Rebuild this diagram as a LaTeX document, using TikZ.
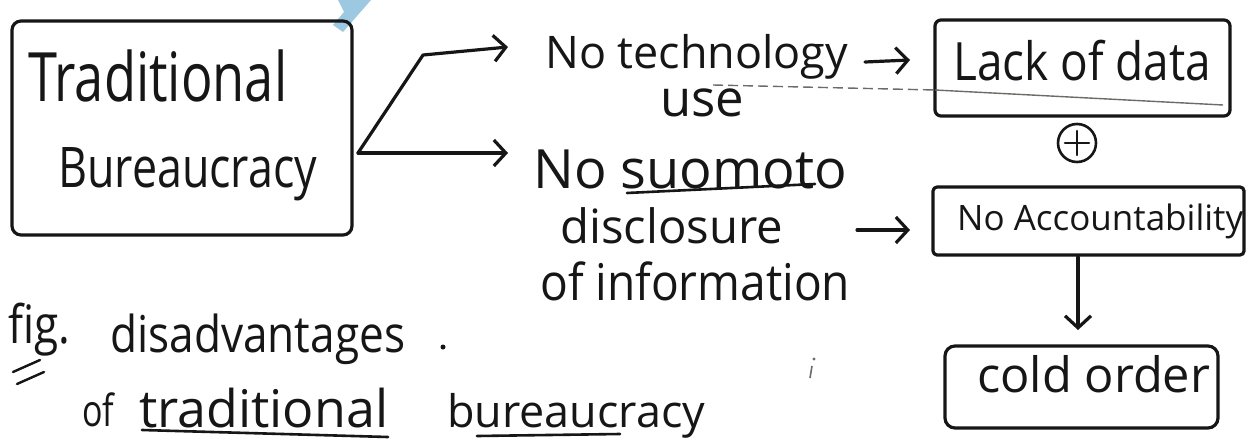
\documentclass[tikz,border=0pt]{standalone}
\usepackage{fontspec}
\setmainfont{Open Sans}
\usepackage{graphicx}
\usetikzlibrary{arrows.meta}
\definecolor{inkc}{HTML}{161616}
\definecolor{pencil}{HTML}{6E6A66}
\definecolor{wmark}{HTML}{9CC8E2}
% handwritten line: [vertical stretch]{width in pt}{text}
\newcommand{\hw}[3][1]{\scalebox{1}[#1]{\resizebox{#2pt}{!}{#3}}}

\begin{document}
\begin{tikzpicture}[x=1pt,y=-1pt,
  ink/.style={line width=3.2pt, draw=inkc, line cap=round, line join=round},
  frame/.style={ink, rectangle, rounded corners=9pt, inner sep=0pt},
  arr/.style={ink, -{Straight Barb[length=12pt,width=26pt]}},
  word/.style={inner sep=0pt, text=inkc, anchor=base west, font=\fontsize{48}{56}\selectfont},
]
% canvas
\fill[white] (0,0) rectangle (1249,439);
\useasboundingbox (0,0) rectangle (1249,439);

% light blue stroke at the top edge
\fill[wmark] (338,0) -- (371,0) -- (343,32) -- (333,25) -- (344,12) -- cycle;

% boxes
\node[frame, minimum width=340pt, minimum height=214pt] (box1) at (182,128) {};
\node[frame, rounded corners=6pt, minimum width=295pt, minimum height=96pt] (lack) at (1082.5,68) {};
\node[frame, rounded corners=4pt, minimum width=311pt, minimum height=68pt] (noacc) at (1088.5,221) {};
\node[frame, rounded corners=10pt, minimum width=273pt, minimum height=82pt] (cold) at (1081.5,387) {};

% texts
\node[word] (t1) at (28,101) {\hw[1.3]{259}{Traditional}};
\node[word] (t2) at (58,187) {\hw[1.25]{259}{Bureaucracy}};
\node[word] (nt) at (545,68) {\hw{303}{No technology}};
\node[word] (use) at (660,116) {\hw{84}{use}};
\node[word] (lacktxt) at (953,80) {\hw[1.15]{258}{Lack of data}};
\node[word] (ns) at (533,188) {\hw{314}{No suomoto}};
\node[word] (disc) at (560,243) {\hw{223}{disclosure}};
\node[word] (info) at (540,300) {\hw[1.1]{310}{of information}};
\node[word] (natxt) at (957,230) {\hw{286}{No Accountability}};
\node[word] (coldtxt) at (977,392) {\hw{233}{cold order}};
\node[word] (fig) at (8,343) {\hw[1.2]{62}{fig.}};
\node[word] (dis) at (110,352) {\hw[1.15]{295}{disadvantages}};
\node[word] (of) at (82,426) {\hw[1.3]{32}{of}};
\node[word] (trad) at (139,427) {\hw{249}{traditional}};
\node[word] (bur) at (447,427) {\hw{258}{bureaucracy}};

% plus sign between the two right boxes
\node[ink, line width=2.6pt, circle, minimum size=38pt, inner sep=0pt] (plus) at (1077,143) {};
\draw[ink, line width=2.6pt] ([yshift=12pt]plus.center) -- ([yshift=-12pt]plus.center)
  ([xshift=-12pt]plus.center) -- ([xshift=12pt]plus.center);

% connector end points
\coordinate (split) at (358,153);
\coordinate (bendA) at (423,55);
\coordinate (tipA) at (508,47);
\coordinate (tipB) at (508,153);
\coordinate (techR) at (865,62);
\coordinate (lackIn) at (910,60);
\coordinate (discR) at (857,230);
\coordinate (naIn) at (910,230);
\coordinate (naOut) at (1078,257);
\coordinate (coldIn) at (1078,330);

% connectors
\draw[arr] (split) -- (bendA) -- (tipA);
\draw[arr] (split) -- (tipB);
\draw[arr] (techR) -- (lackIn);
\draw[arr] (discR) -- (naIn);
\draw[arr] (naOut) -- (coldIn);

% underlines
\draw[ink, line width=2.6pt] (627,193) -- (815,184);
\draw[ink, line width=2.4pt] (13,372) -- (40,360);
\draw[ink, line width=2.4pt] (17,384) -- (44,372);
\draw[ink, line width=2.6pt] (142,430) -- (388,437);
\draw[ink, line width=2.6pt] (477,436) -- (620,434);
\fill[inkc] (443,347) circle (2.5pt);

% faint pencil stroke through the first box
\draw[pencil, line width=1.4pt, dash pattern=on 10pt off 5pt] (713,85) -- (935,90);
\draw[pencil, line width=1.4pt] (935,90) -- (1223,105);
\draw[pencil, line width=1.6pt] (812,366) -- (810,378);
\fill[pencil] (814,359) circle (1.6pt);
\end{tikzpicture}
\end{document}
